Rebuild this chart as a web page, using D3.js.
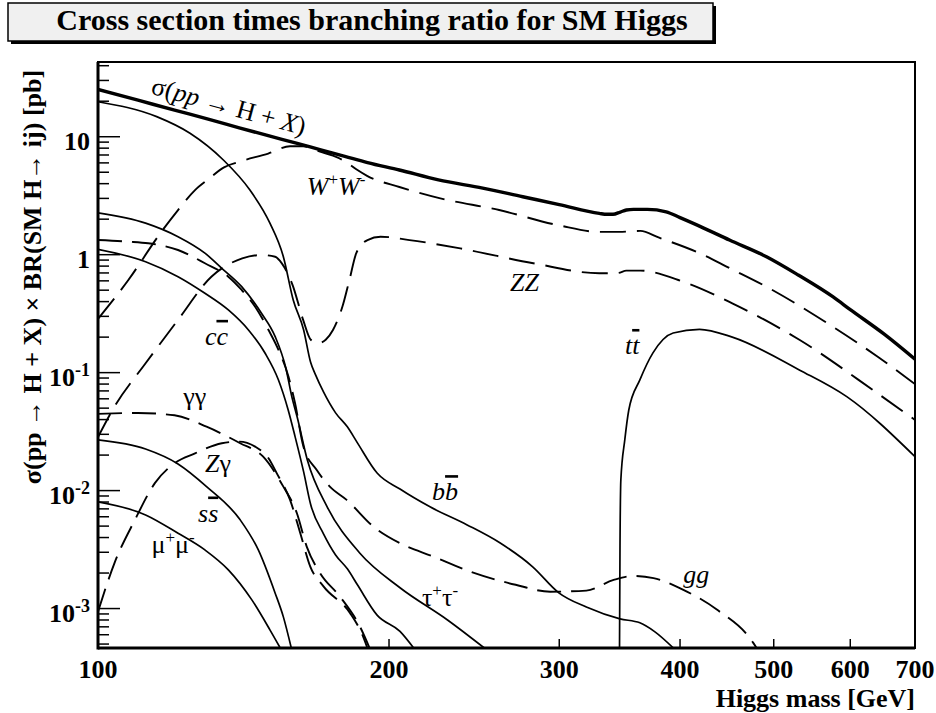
<!DOCTYPE html>
<html>
<head>
<meta charset="utf-8">
<script src="https://cdn.jsdelivr.net/npm/d3@7"></script>
<style>
body{margin:0;background:#fff;}
</style>
</head>
<body>
<script>
// dane: [masa Higgsa GeV, sigma*BR pb]
var sigmaTot=[[100,25.2],[110,20.4],[120,16.8],[130,14.1],[140,11.9],[150,10.2],[160,8.86],[170,7.74],[180,6.82],[190,6.04],[205,5.22],[225,4.3],[250,3.67],[275,3.1],[300,2.66],[330,2.24],[336,2.2],[341,2.2],[347,2.3],[352,2.39],[358,2.42],[370,2.42],[387,2.31],[400,2.06],[420,1.73],[450,1.33],[492,0.956],[530,0.673],[576,0.438],[600,0.342],[650,0.213],[700,0.13]];
var brWW=[[100,0.285],[107.5,0.61],[116,1.52],[121,2.39],[126,3.53],[130,4.35],[135,5.5],[140,6.13],[150,7.2],[158,8.3],[163,8.3],[170,7.45],[175,6.9],[180,6.2],[185,5.3],[190,4.64],[205,3.75],[226,3.0],[260,2.39],[300,1.77],[330,1.56],[346,1.56],[364,1.59],[380,1.4],[419,1.03],[450,0.77],[492,0.532],[576,0.244],[640,0.137],[700,0.08]];
var brZZ=[[100,0.0284],[104,0.0515],[112,0.12],[121,0.28],[131,0.65],[141,0.93],[147.6,0.994],[152.5,0.96],[155,0.84],[159,0.55],[163,0.28],[166,0.19],[169,0.178],[172,0.19],[175,0.23],[179,0.363],[182,0.61],[185,1.03],[190,1.33],[196,1.42],[210,1.33],[237,1.13],[282,0.846],[330,0.696],[345,0.7],[352,0.732],[364,0.732],[403,0.59],[453,0.387],[532,0.189],[640,0.0669],[700,0.0397]];
var brTT=[[346,0.0001],[346.7,0.0034],[347.4,0.0123],[350.7,0.027],[354,0.048],[363.5,0.0867],[375,0.147],[393.5,0.217],[419,0.233],[453,0.2],[532,0.105],[595,0.0626],[700,0.0194]];
var brBB=[[100,19.8],[115,14.8],[124.5,10.7],[134.8,6.35],[143.6,3.53],[150.6,1.85],[155.5,0.962],[159.2,0.413],[163.2,0.23],[165.9,0.123],[167.9,0.0957],[171.1,0.0686],[176.1,0.0456],[181.1,0.0347],[185.5,0.0254],[194.4,0.0141],[205.3,0.0103],[220.5,0.00728],[240.9,0.00512],[260.4,0.00361],[281.6,0.00226],[299.7,0.00136],[320,0.00103],[346.7,0.000818],[363.5,0.000757],[376.8,0.000635],[393.5,0.000465]];
var brTauTau=[[100,2.26],[112,1.85],[121,1.42],[129,1.03],[134.3,0.767],[140.8,0.536],[147.6,0.319],[152.5,0.202],[156.4,0.11],[158.7,0.062],[160.7,0.042],[164.7,0.018],[172.6,0.00728],[186.5,0.00296],[205.3,0.0015],[229.9,0.0008],[250.8,0.000465]];
var brCC=[[100,1.11],[112,0.872],[121,0.651],[129,0.471],[136.4,0.34],[143.1,0.23],[148.9,0.146],[153.7,0.0867],[157.3,0.0483],[159.9,0.0287],[163.2,0.0144],[165.9,0.0077],[171.1,0.0043],[176.1,0.00285],[181.1,0.00217],[185.5,0.00159],[194.4,0.00088],[205.3,0.00064],[212,0.000465]];
var brGG=[[100,1.33],[107.5,1.29],[112.7,1.25],[121,1.096],[129,0.846],[136.4,0.651],[140.8,0.502],[145.4,0.362],[150.1,0.23],[153.7,0.156],[157.4,0.0925],[159.9,0.055],[163.1,0.0236],[168.3,0.015],[173.7,0.0108],[180.8,0.00834],[192.7,0.00495],[205.3,0.00358],[222.2,0.00276],[242.6,0.00206],[270.4,0.00159],[293.6,0.00139],[320,0.00142],[341.5,0.00175],[358,0.00189],[375.5,0.00181],[403.2,0.00144],[436.6,0.00098],[476.4,0.000509],[481,0.00045]];
var brGamGam=[[100,0.0447],[110,0.0455],[120,0.0435],[129.5,0.0348],[140.3,0.0252],[148.2,0.0194],[155.5,0.0108],[160.6,0.00643],[164.4,0.00335],[169.7,0.002],[178,0.00126],[186.6,0.000704],[191,0.00046]];
var brZGam=[[100,0.00094],[104,0.00243],[109.2,0.00565],[114.5,0.01156],[120,0.01706],[126,0.0207],[134.3,0.0252],[139.8,0.026],[145.4,0.0236],[150.1,0.0188],[153.1,0.014],[158,0.00834],[161.9,0.00435],[165.8,0.00227],[171.1,0.00154],[182.3,0.000914],[188,0.00058],[190,0.00046]];
var brSS=[[100,0.0269],[112,0.0225],[121,0.0168],[129.5,0.0108],[140.3,0.00565],[146.5,0.00314],[152.5,0.00135],[155.5,0.00085],[158.5,0.00046]];
var brMuMu=[[100,0.00802],[112,0.00622],[121,0.00435],[129,0.00314],[136.4,0.00213],[144.2,0.00119],[150.6,0.00066],[154.2,0.00047]];

var xTicks=[100,200,300,400,500,600,700];
var yTicks=[0.001,0.01,0.1,1,10];
var yTickBase=["10","10","10","1","10"];
var yTickExp=["-3","-2","-1","",""];

var tytul="Cross section times branching ratio for SM Higgs";

var svg=d3.select("body").append("svg")
	.attr("width",936)
	.attr("height",713)
	.style("font-family","'Liberation Serif','Times New Roman',serif");

var x=d3.scaleLog().domain([100,700]).range([98,915]);
var y=d3.scaleLog().domain([4.63e-4,43]).range([648,62]);

//tytul w ramce z cieniem
svg.append("rect").attr("x",11).attr("y",6).attr("width",705).attr("height",38)
	.style("fill","#000");
svg.append("rect").attr("x",8).attr("y",3).attr("width",705).attr("height",38)
	.style("fill","#f0f0f0")
	.style("stroke","#000")
	.style("stroke-width",1.5);
svg.append("text").attr("x",372).attr("y",30)
	.attr("text-anchor","middle")
	.style("font-weight","bold")
	.style("font-size","30px")
	.text(tytul);

//obszar rysowania
svg.append("defs").append("clipPath").attr("id","obszar")
	.append("rect")
	.attr("x",x.range()[0]).attr("y",y.range()[1])
	.attr("width",x.range()[1]-x.range()[0])
	.attr("height",y.range()[0]-y.range()[1]);

var linia=d3.line()
	.x(function(d){return x(d[0]);})
	.y(function(d){return y(d[1]);})
	.curve(d3.curveMonotoneX);

var krzywe=[
	{dane:brBB, kreska:null, grubosc:1.7},
	{dane:brTauTau, kreska:null, grubosc:1.7},
	{dane:brCC, kreska:null, grubosc:1.7},
	{dane:brSS, kreska:null, grubosc:1.7},
	{dane:brMuMu, kreska:null, grubosc:1.7},
	{dane:brTT, kreska:null, grubosc:1.7},
	{dane:brGG, kreska:"24,10", grubosc:1.9},
	{dane:brGamGam, kreska:"24,10", grubosc:1.9},
	{dane:brZGam, kreska:"24,10", grubosc:1.9},
	{dane:brWW, kreska:"26,11", grubosc:1.9},
	{dane:brZZ, kreska:"26,11", grubosc:1.9},
	{dane:sigmaTot, kreska:null, grubosc:3.4}
];

var wykres=svg.append("g").attr("clip-path","url(#obszar)");
for(var i=0;i<krzywe.length;i++)
{
	wykres.append("path")
		.attr("d",linia(krzywe[i].dane))
		.style("fill","none")
		.style("stroke","#000")
		.style("stroke-width",krzywe[i].grubosc)
		.style("stroke-dasharray",krzywe[i].kreska);
}

//ramka
svg.append("rect")
	.attr("x",x.range()[0]).attr("y",y.range()[1])
	.attr("width",x.range()[1]-x.range()[0])
	.attr("height",y.range()[0]-y.range()[1])
	.style("fill","none")
	.style("stroke","#000")
	.style("stroke-width",2);
svg.append("line").attr("x1",x.range()[0]).attr("x2",x.range()[0])
	.attr("y1",y.range()[1]).attr("y2",y.range()[0]+1.5)
	.style("stroke","#000").style("stroke-width",3);
svg.append("line").attr("x1",x.range()[0]).attr("x2",x.range()[1])
	.attr("y1",y.range()[0]).attr("y2",y.range()[0])
	.style("stroke","#000").style("stroke-width",3);

//os y: podzialki
var yDom=y.domain();
var drobne=[];
for(var e=-4;e<=1;e++)
	for(var k=2;k<=9;k++)
	{
		var v=k*Math.pow(10,e);
		if(v>yDom[0] && v<yDom[1]) drobne.push(v);
	}
svg.selectAll(".drobna").data(drobne).enter().append("line")
	.attr("x1",x.range()[0]).attr("x2",x.range()[0]+11)
	.attr("y1",function(d){return y(d);}).attr("y2",function(d){return y(d);})
	.style("stroke","#000").style("stroke-width",1.5);
svg.selectAll(".glowna").data(yTicks).enter().append("line")
	.attr("x1",x.range()[0]).attr("x2",x.range()[0]+22)
	.attr("y1",function(d){return y(d);}).attr("y2",function(d){return y(d);})
	.style("stroke","#000").style("stroke-width",1.5);
var yEtyk=svg.selectAll(".yetyk").data(yTicks).enter().append("text")
	.attr("x",90)
	.attr("y",function(d){return y(d)+13;})
	.attr("text-anchor","end")
	.style("font-weight","bold")
	.style("font-size","26px");
yEtyk.append("tspan").text(function(d,i){return yTickBase[i];});
yEtyk.append("tspan")
	.attr("dy","-10")
	.style("font-size","18px")
	.text(function(d,i){return yTickExp[i];});

//os x
svg.selectAll(".xpodz").data(xTicks).enter().append("line")
	.attr("x1",function(d){return x(d);}).attr("x2",function(d){return x(d);})
	.attr("y1",y.range()[0]).attr("y2",y.range()[0]-9)
	.style("stroke","#000").style("stroke-width",1.5);
svg.selectAll(".xetyk").data(xTicks).enter().append("text")
	.attr("x",function(d){return x(d);})
	.attr("y",678)
	.attr("text-anchor","middle")
	.style("font-weight","bold")
	.style("font-size","26px")
	.text(function(d){return d;});

svg.append("text").attr("x",915).attr("y",707)
	.attr("text-anchor","end")
	.style("font-weight","bold")
	.style("font-size","26px")
	.text("Higgs mass [GeV]");
svg.append("text")
	.attr("transform","translate(41,277) rotate(-90)")
	.attr("text-anchor","middle")
	.style("font-weight","bold")
	.style("font-size","26px")
	.text("\u03c3(pp \u2192 H + X) \u00d7 BR(SM H\u2192 ij) [pb]");

//podpisy krzywych: [masa, wartosc] lewego konca linii bazowej
function podpis(m,v,czesci)
{
	var t=svg.append("text").attr("x",x(m)).attr("y",y(v)).style("font-size","26px");
	for(var j=0;j<czesci.length;j++)
	{
		var c=czesci[j];
		var s=t.append("tspan").text(c.t);
		if(c.i) s.style("font-style","italic");
		if(c.o) s.style("text-decoration","overline");
		if(c.sup) s.attr("dy",-10).style("font-size","17px");
		if(c.dol) s.attr("dy",10);
	}
	return t;
}
podpis(113.2,23.2,[{t:"\u03c3("},{t:"pp",i:1},{t:" \u2192 H + "},{t:"X",i:1},{t:")"}])
	.attr("transform","rotate(15.2,"+x(113.2)+","+y(23.2)+")");
podpis(164.4,3.2,[{t:"W",i:1},{t:"+",sup:1},{t:"W",i:1,dol:1},{t:"-",sup:1}]);
podpis(266.8,0.493,[{t:"ZZ",i:1}]);
podpis(129,0.172,[{t:"c",i:1},{t:"c",i:1,o:1}]);
podpis(350.8,0.144,[{t:"t",i:1},{t:"t",i:1,o:1}]);
podpis(122.5,0.0532,[{t:"\u03b3\u03b3"}]);
podpis(129,0.0144,[{t:"Z",i:1},{t:"\u03b3"}]);
podpis(221.6,0.0083,[{t:"b",i:1},{t:"b",i:1,o:1}]);
podpis(126.9,0.00547,[{t:"s",i:1},{t:"s",i:1,o:1}]);
podpis(113.6,0.00297,[{t:"\u03bc"},{t:"+",sup:1},{t:"\u03bc",dol:1},{t:"-",sup:1}]);
podpis(216.3,0.00105,[{t:"\u03c4"},{t:"+",sup:1},{t:"\u03c4",dol:1},{t:"-",sup:1}]);
podpis(403,0.00165,[{t:"gg",i:1}]);
</script>
</body>
</html>
